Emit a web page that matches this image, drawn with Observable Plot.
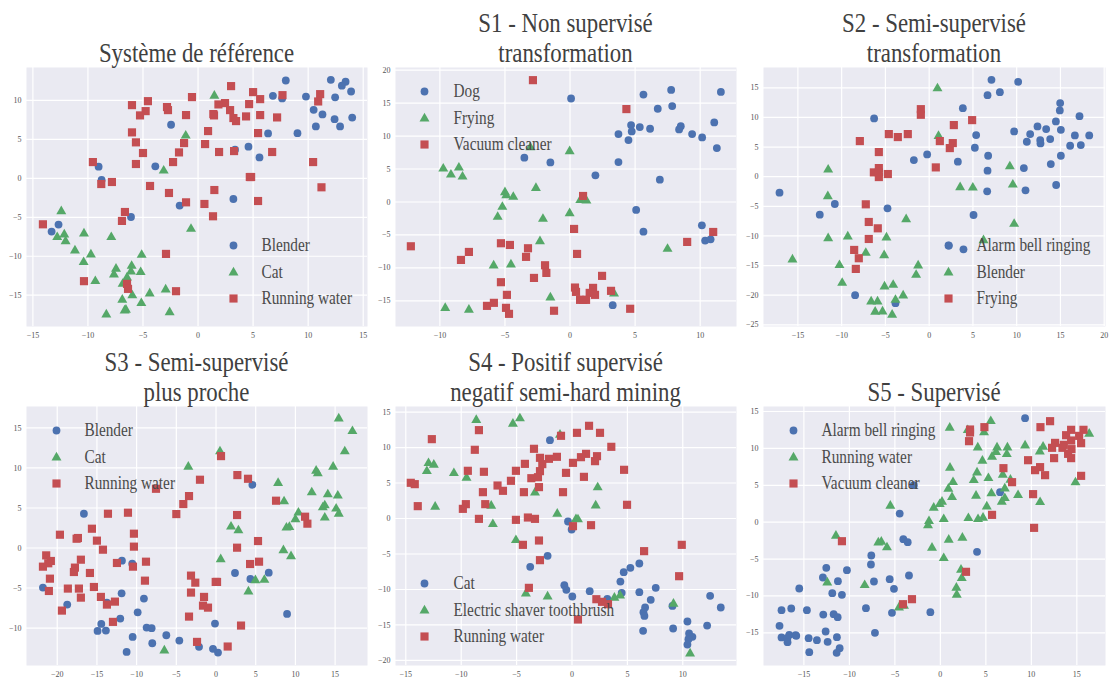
<!DOCTYPE html>
<html>
<head>
<meta charset="utf-8">
<script src="https://cdn.jsdelivr.net/npm/d3@7"></script>
<script src="https://cdn.jsdelivr.net/npm/@observablehq/plot@0.6"></script>
<style>
html,body{margin:0;padding:0;background:#fff}
#root{position:relative;width:1109px;height:681px;overflow:hidden}
.panel{position:absolute}
.ttl{position:absolute;left:0;text-align:center;font-family:"Liberation Serif",serif;font-size:28px;line-height:30px;color:#404040;white-space:nowrap;transform:scaleX(0.815);transform-origin:center}
svg{display:block;background:transparent;overflow:visible}
</style>
</head>
<body>
<div id="root"></div>
<script>
// Panel 0 - Système de référence
const p0Blender=[[7.97,12.56],[6.8,10.6],[7.64,10.26],[9.8,10.5],[12.06,12.65],[13.4,12.4],[13.06,11.9],[13.9,11.15],[12.45,10.4],[10.5,8.8],[11.3,8.2],[12.4,7.6],[14,7.8],[10.7,6.67],[12.9,6.67],[9.03,5.8],[6.36,5.77],[-2.45,6.88],[3.36,3.68],[4.58,4.06],[5.58,2.69],[-9.03,1.5],[-3.88,1.54],[-8.76,-0.2],[-1.67,-3.5],[3.21,-2.65],[-6.09,-4.96],[-12.67,-5.94],[-13.3,-6.84]];
const p0Cat=[[1.48,10.6],[-1.12,5.47],[-3.12,0.98],[-12.42,-4.23],[-0.64,-6.5],[-10.36,-7.09],[-12.15,-7.22],[-12.79,-7.56],[-12.03,-8.08],[-7.88,-7.56],[-11.18,-9.27],[-9.73,-9.79],[-5.12,-9.83],[-10.39,-10.77],[-6.03,-11.24],[-7.45,-11.62],[-6.09,-11.97],[-5.21,-12.05],[-7.64,-12.35],[-6.45,-12.74],[-9.33,-13.2],[-6.85,-13.55],[-2.94,-14.27],[-4.39,-14.79],[-5.97,-15.04],[-6.88,-15.6],[-5.15,-16.03],[-6.55,-16.88],[-6.67,-16.97],[-2.58,-17.2],[-8.33,-17.48]];
const p0Water=[[3,11.84],[5,11.07],[-0.55,10.43],[7.67,10.68],[11.09,10.81],[10.91,9.87],[5.64,10.17],[4.64,9.53],[2.45,9.66],[1.85,9.49],[-4.55,9.91],[-6,9.4],[-2.82,9.15],[-2.73,8.76],[-4.76,8.63],[-5.27,8.08],[-1.09,8.12],[1.39,8.25],[1.45,8.08],[2.91,8.76],[3.21,7.74],[3.45,7.35],[4.36,7.95],[5.64,8.12],[7.18,7.82],[0.91,6.07],[-6,5.9],[5.45,5.81],[-5.64,4.62],[-1.27,4.53],[0.64,4.4],[-1.73,3.33],[-5,3.25],[1.91,3.38],[3.27,3.5],[6.73,3.38],[-9.55,2.09],[-2.27,2.09],[-5.64,1.84],[10.45,2.09],[4.7,0.17],[4.82,0.17],[-7.82,-0.47],[-8.79,-0.73],[-4.36,-0.98],[11.21,-1.15],[1.48,-1.5],[-2.64,-1.88],[-1.09,-3.08],[5.45,-2.91],[0.58,-3.29],[-6.64,-4.32],[1.36,-4.87],[-6.91,-5.47],[-14.09,-5.9],[-2.91,-9.7],[-10.36,-13.2],[-6.45,-13.55],[-6.36,-14.19],[-2,-14.49]];
// Panel 1 - S1
const p1Dog=[[5.64,16.3],[7.77,17],[11.59,16.7],[0.08,15.7],[7.85,14.55],[6.74,14.14],[4.69,11.67],[5.36,11.36],[6.15,11.11],[4.74,10.7],[3.72,10.3],[8.51,11.5],[8.38,11],[9.38,10.3],[10.15,9.8],[11.08,12.07],[4.49,9.39],[11.28,8.18],[-3.51,6.72],[-1.51,6],[3.72,6.06],[1.95,4.04],[6.9,3.38],[5.08,-1.21],[10.13,-3.54],[5.64,-4.5],[10.38,-5.86],[10.8,-5.66],[3.28,-15.66]];
const p1Frying=[[-3.05,8.28],[-0.03,7.68],[-9.74,5.05],[-8.54,5.2],[-9.15,4.14],[-8.26,3.84],[-2.62,2.12],[-5,1.46],[-4.9,1],[-4.36,0.76],[0.79,0.3],[1.26,0.2],[-5.2,-0.76],[-0.03,-1.72],[-5.56,-2.27],[-2.08,-2.58],[-2.31,-5.96],[7.49,-7.12],[-5.87,-9.65],[-4.54,-9.5],[-1.51,-14.5],[3.38,-13.9],[-9.59,-16.1],[-7.77,-16.36]];
const p1Vacuum=[[-2.85,18.48],[4.33,14.09],[1,0.91],[0.31,-4.09],[11,-4.55],[9,-6.06],[-12.23,-6.72],[-5.31,-6.26],[-4.62,-6.52],[-7.77,-7.58],[-3.23,-7.02],[-3.38,-8.33],[-8.38,-8.79],[0.54,-7.88],[-1.92,-9.6],[-1.82,-10.76],[-2.77,-11.52],[2.46,-11.21],[-5.31,-12.17],[0.38,-12.98],[0.46,-13.64],[1.77,-13.03],[1.51,-13.79],[1.92,-14.09],[3.15,-13.48],[-4.85,-14.09],[0.77,-14.85],[1.23,-14.85],[1,-14.85],[-5.85,-15.3],[-6.38,-15.76],[-4.92,-16.06],[-4.69,-16.97],[-1.23,-16.5],[4.62,-16.2]];
// Panel 2 - S2
const p2Alarm=[[7.12,16.35],[10.17,16.01],[8.08,14.27],[6.67,13.76],[3.85,11.57],[14.97,12.42],[14.93,11.18],[-6.29,9.83],[17.18,10.22],[14.48,9.33],[12.38,8.48],[13.37,8.03],[15.05,7.92],[9.71,7.64],[11.54,7.19],[5.37,7.02],[16.65,6.97],[18.29,6.97],[13.83,6.35],[11.16,5.9],[12.69,6.18],[12.72,5.62],[17.33,5.34],[16.11,5.22],[5.22,4.89],[-0.23,3.76],[6.74,3.54],[15.05,3.54],[-1.75,2.81],[3.28,2.53],[13.9,2.13],[10.82,1.46],[6.67,1.01],[14.51,-1.4],[11.01,-2.3],[6.63,-2.47],[-17.1,-2.7],[-10.78,-4.61],[-12.5,-6.4],[-4.76,-5.34],[5.07,-6.46],[2.25,-11.63],[3.92,-12.25],[-8.46,-20],[-3.85,-21.35]];
const p2Blender=[[0.95,14.89],[1.07,6.85],[-11.54,1.18],[9.22,1.74],[3.54,-1.8],[4.99,-1.85],[9.56,-1.35],[-11.58,-3.31],[-2.63,-7.19],[9.71,-7.98],[-11.54,-10.39],[-9.3,-10.11],[-4.88,-10.28],[6.21,-10.73],[-7.24,-12.87],[-5.14,-13.26],[-15.62,-13.99],[-10.25,-14.94],[-1.26,-15],[-1.49,-16.57],[-9.94,-17.92],[-5.1,-18.54],[-4.11,-18.26],[-2.97,-20.06],[-3.85,-20.79],[-6.63,-21.07],[-5.9,-21.07],[-6.17,-22.81],[-5.33,-22.75],[-4.23,-23.31]];
const p2Frying=[[-0.95,11.4],[-0.95,10.45],[4.91,9.55],[2.82,8.71],[-4.61,7.19],[-2.44,7.19],[-3.58,6.69],[-7.92,6.01],[1.22,6.01],[2.7,5.67],[2.36,4.83],[-5.75,4.16],[0.76,1.57],[-5.75,1.46],[-6.32,0.73],[-5.75,0.73],[-4.72,0.45],[-5.75,-0.06],[-7.24,-4.66],[-6.9,-7.64],[-5.87,-8.71],[-6.9,-10.51],[-8.57,-12.36],[-8.04,-13.76],[-8.38,-15.56]];
// Panel 3 - S3
const p3Blender=[[-16.64,4.28],[4.58,7.9],[-11.85,-1.58],[-10.55,-1.96],[2.39,-3.12],[6.64,-3.08],[4.33,-3.87],[-21.8,-4.95],[-11.89,-5.66],[-9.08,-6.32],[-13.74,-6.82],[-18.74,-7.07],[-9.87,-8.03],[-12.06,-8.82],[8.95,-8.24],[-14.45,-9.48],[-0.13,-9.44],[-14.92,-10.36],[-13.87,-10.32],[-8.74,-9.94],[-8.11,-10.02],[-6.26,-10.9],[-10.5,-11.11],[-4.62,-11.56],[-8.03,-11.9],[-11.26,-12.98],[-2.14,-12.35],[-0.38,-12.6],[0.25,-13.06]];
const p3Cat=[[15.46,16.18],[17.18,14.6],[16.22,12.06],[0.5,12.06],[-3.49,10.15],[14.75,10.15],[12.61,9.65],[12.82,9.32],[7.82,8.11],[12.06,6.95],[14.08,6.7],[15.34,6.53],[8.57,5.82],[13.7,5.32],[13.45,5.07],[15.13,4.91],[15.46,4.28],[10.38,4.41],[13.7,3.79],[10,3.58],[9.24,2.62],[8.87,2.54],[1.89,2.66],[2.82,2.2],[8.49,-0.29],[9.45,-1.04],[0.59,-1.41],[4.96,-4.03],[6.09,-3.99],[4.08,-5.45],[-6.51,-12.81]];
const p3Water=[[0.63,11.48],[2.69,9.11],[4.03,8.65],[-2.02,8.53],[-3.4,6.49],[-4.12,5.49],[7.56,5.91],[-7.56,7.4],[-13.61,4.28],[-11.09,4.41],[-5,4.24],[2.65,4.12],[11.22,3.91],[11.51,3.04],[-15.63,2.41],[-19.66,1.66],[-10.34,1.79],[-17.39,1.25],[-17.56,1.16],[-15,0.92],[5.29,0.87],[-10.34,0.17],[-14.24,-0.21],[2.65,0.04],[-17.02,-1.46],[-21.39,-0.92],[-20.8,-1.62],[-21.13,-1.91],[-21.8,-2.33],[-12.48,-1.87],[-8.82,-1.71],[4.29,-2],[5.42,-1.71],[-10.46,-2.33],[-17.77,-2.45],[-17.9,-3],[-15.88,-3.12],[-3.15,-3.45],[-20.92,-3.83],[-2.61,-4.33],[-8.95,-4.08],[-0.04,-4.24],[0.13,-4.24],[-18.66,-5.07],[-15.38,-4.87],[-17.27,-5.07],[-21.05,-5.37],[-3.15,-5.57],[-17.02,-6.2],[-14.5,-6.11],[-1.51,-6.11],[-12.73,-6.7],[-13.74,-7.07],[-1.64,-7.2],[-1.01,-7.45],[-19.41,-7.82],[-3.4,-8.57],[-12.98,-9.23],[3.15,-9.69],[-2.39,-11.73],[1.47,-12.31]];
// Panel 4 - S4
const p4Cat=[[-1.99,11.04],[-0.36,-0.42],[-0.03,-1.55],[-2.2,-5.26],[-3.77,-6.81],[6.08,-6.34],[5.27,-6.95],[4.67,-7.56],[4.37,-8.88],[-0.69,-9.39],[-0.51,-10.05],[1.6,-10.24],[0.03,-10.99],[4.49,-10.47],[6.08,-10.38],[7.56,-9.77],[7.11,-11.46],[3.19,-11.32],[12.47,-10.9],[13.43,-12.54],[9.07,-12.31],[6.6,-12.54],[6.45,-13.2],[6.54,-13.72],[6.42,-15.83],[10.42,-14.51],[9.13,-15.5],[12.2,-15.08],[10.57,-16.2],[10.63,-16.58],[10.87,-16.67],[10.51,-17],[10.42,-17.76]];
const p4Shaver=[[-4.7,14.09],[-8.64,13.86],[-5.33,13.34],[-1.08,11.79],[-12.95,7.8],[-12.47,7.56],[-13.1,6.67],[-10.66,6.39],[-9.52,5.73],[-3.34,3.66],[2.32,4.37],[-12.35,1.64],[-7.29,1.78],[2.14,1.83],[-1.33,0.66],[0.36,-0.09],[0.54,-0.14],[-7.14,-0.8],[-5.06,-3.05],[-4.16,-10.57],[-2.2,-10.99],[3.83,-11.18],[4.34,-10.85],[9.16,-12.02],[10.66,-19.02]];
const p4Water=[[1.54,13.06],[2.53,12.07],[0.45,12.07],[-0.99,11.65],[-8.4,12.45],[-12.65,11.18],[-8.77,9.68],[-3.43,9.82],[3.55,10.1],[-2.89,8.55],[-1.36,8.69],[-2.08,8.41],[1.27,9.11],[0.81,8.64],[2.26,8.78],[2.08,8.08],[0.09,7.84],[-2.68,7.66],[-4.25,7.7],[-9.4,6.72],[-7.95,6.58],[-5.06,6.72],[-2.89,6.67],[-0.54,6.43],[4.7,6.86],[-3.07,5.82],[-3.67,5.68],[1.08,5.87],[-5.51,5.31],[-6.72,4.65],[-14.55,5.03],[-14.19,4.84],[-2.98,4.42],[-6.23,3.9],[-8.04,3.71],[-4.34,3.71],[-0.81,3.71],[-9.58,2.02],[-7.83,2.02],[4.97,1.93],[-13.92,1.74],[-9.85,1.36],[-8.4,-0.05],[-5.06,-0.19],[-3.98,0.14],[-3.34,-0.05],[0.09,-1.08],[1.72,-0.94],[-2.98,-3.1],[-4.43,-3.71],[9.91,-3.71],[6.51,-4.6],[-2.89,-5.87],[9.67,-8.13],[-3.89,-9.77],[2.2,-11.37],[2.71,-11.74],[3.25,-12.07],[0.54,-14.23]];
// Panel 5 - S5
const p5Alarm=[[9.31,14.1],[-2.93,5.02],[6.56,4.07],[-4.47,1.17],[-4.07,-2.3],[-3.59,-2.71],[-7.59,-4.52],[4.03,-4.02],[-7.63,-5.74],[-12.54,-6.19],[-10.27,-6.51],[-12.91,-7.5],[-3.45,-7.23],[-5.57,-7.73],[-7.3,-8.04],[-11.26,-8],[-15.51,-8.99],[-5.1,-9.04],[-11.88,-9.62],[-10.82,-9.85],[-16.39,-11.7],[-17.46,-11.93],[-14.67,-11.93],[-8.18,-11.66],[-1.1,-12.2],[-5.32,-12.29],[-12.87,-12.52],[-11.73,-12.47],[-11.29,-12.88],[-17.68,-14.05],[-12.61,-14.82],[-7.19,-15],[-16.61,-15.27],[-15.91,-15.32],[-15.84,-15.41],[-17.46,-15.63],[-16.8,-15.68],[-11.37,-15.59],[-14.48,-15.73],[-13.57,-16],[-16.8,-16.27],[-12.39,-16.22],[-11.07,-17.08],[-14.41,-17.62],[-11.4,-17.71]];
const p5Water=[[5.54,13.69],[1.03,12.79],[3.01,12.47],[4.8,12.16],[16.36,11.97],[9.31,10.39],[11.29,10.21],[6.23,10.12],[7.37,10.12],[4.11,10.12],[6.12,9.49],[10.93,9.58],[7.3,9.22],[5.68,8.86],[4.62,8.31],[1.06,7.37],[4.03,6.73],[6.86,6.42],[3.67,5.69],[5.28,5.96],[1.39,5.42],[7.7,5.74],[14.85,5.38],[7.08,4.56],[0.88,4.52],[5.61,3.89],[8.54,3.66],[3.92,3.57],[1.28,3.39],[7.08,3.25],[6.75,2.76],[10.96,2.71],[0.18,2.76],[-0.07,2.44],[5.1,2.12],[-5.5,2.21],[-0.73,1.94],[3.08,0.54],[0.37,0.41],[4.69,0.59],[4.14,0.41],[-1.25,0.14],[-1.36,-0.45],[-11.48,-1.85],[-6.49,-2.67],[-6.82,-2.76],[2.42,-2.12],[0.92,-2.39],[-5.87,-3.43],[-0.92,-3.48],[0.37,-4.88],[2.27,-6.46],[2.35,-7.59],[-12.43,-8.18],[-8.32,-8.54],[1.76,-8.9],[1.8,-9.85],[-4.55,-11.57],[-4,-11.34]];
const p5Vacuum=[[12.06,13.69],[4.84,12.88],[11,12.88],[3.26,12.56],[3.26,12.16],[3.15,10.98],[15.73,12.52],[14.37,12.52],[13.82,11.79],[15.25,11.7],[14.37,11.07],[15.47,10.71],[12.61,10.75],[13.57,10.48],[12.28,10.08],[13.42,10.08],[14.41,9.9],[14.04,9.26],[14.37,8.68],[12.5,8.68],[9.64,8.4],[6.93,7.32],[10.96,7.46],[10.41,7.05],[11.51,6.37],[15.47,6.28],[7.88,5.42],[10.19,3.8],[5.68,0.99],[10.3,-0.77],[-10.82,-2.58],[2.82,-6.73],[-3.12,-10.44],[-4.11,-11.12]];

const titles=[["Système de référence"],["S1 - Non supervisé","transformation"],["S2 - Semi-supervisé","transformation"],["S3 - Semi-supervisé","plus proche"],["S4 - Positif supervisé","negatif semi-hard mining"],["S5 - Supervisé"]];
const seriesNames=[["Blender","Cat","Running water"],["Dog","Frying","Vacuum cleaner"],["Alarm bell ringing","Blender","Frying"],["Blender","Cat","Running water"],["Cat","Electric shaver toothbrush","Running water"],["Alarm bell ringing","Running water","Vacuum cleaner"]];
const seriesData=[[p0Blender,p0Cat,p0Water],[p1Dog,p1Frying,p1Vacuum],[p2Alarm,p2Blender,p2Frying],[p3Blender,p3Cat,p3Water],[p4Cat,p4Shaver,p4Water],[p5Alarm,p5Water,p5Vacuum]];
const xTickLists=[[-15,-10,-5,0,5,10,15],[-10,-5,0,5,10],[-15,-10,-5,0,5,10,15,20],[-20,-15,-10,-5,0,5,10,15],[-15,-10,-5,0,5,10],[-15,-10,-5,0,5,10,15]];
const yTickLists=[[-15,-10,-5,0,5,10],[-15,-10,-5,0,5,10,15,20],[-25,-20,-15,-10,-5,0,5,10,15],[-10,-5,0,5,10,15],[-20,-15,-10,-5,0,5,10,15],[-15,-10,-5,0,5,10,15]];
const xDomains=[[-15.58,15.39],[-13.41,12.79],[-18.93,20.15],[-23.87,19.08],[-15.93,14.85],[-19.44,18.15]];
const yDomains=[[-19.02,14.23],[-18.89,20.4],[-25.28,18.43],[-14.68,17.68],[-20.71,15.78],[-19.43,15.68]];

const colors=["#4c72b0","#55a868","#c44e52"];
const symbols=["circle","triangle","square"];
const radii=[3.9,3.7,4.6];
const serif='"Liberation Serif",serif';
const frameLeft=[26,395,763,26,395,763], frameTop=[67,67,67,406,406,406];
const frameW=[341,341,342,341,341,342], frameH=259;
const legendX=[207,29,185,30,29,30], legendText=[235,58,213,58,58,58];
const legendY=[[178,205,231],[24,51,77],[178,205,231],[24,51,77],[177,204,230],[24,51,77]];

const root=document.getElementById("root");
titles.forEach((t,i)=>{
  const div=document.createElement("div");
  div.className="panel";
  div.style.left=(frameLeft[i]-26)+"px";
  div.style.top=frameTop[i]+"px";
  const marks=[
    Plot.frame({fill:"#eaeaf2",stroke:null}),
    Plot.gridX(xTickLists[i],{stroke:"#fff",strokeOpacity:1,strokeWidth:1.2}),
    Plot.gridY(yTickLists[i],{stroke:"#fff",strokeOpacity:1,strokeWidth:1.2}),
    Plot.axisX(xTickLists[i],{tickSize:0,tickPadding:6,fontSize:8,color:"#555",label:null,fontFamily:serif}),
    Plot.axisY(yTickLists[i],{tickSize:0,tickPadding:5,fontSize:8,color:"#555",label:null,fontFamily:serif})
  ];
  seriesData[i].forEach((pts,k)=>{
    marks.push(Plot.dot(pts,{x:d=>d[0],y:d=>d[1],symbol:symbols[k],fill:colors[k],r:radii[k]}));
  });
  seriesNames[i].forEach((name,k)=>{
    marks.push(Plot.dot([name],{frameAnchor:"top-left",dx:legendX[i],dy:legendY[i][k],symbol:symbols[k],fill:colors[k],r:radii[k]}));
    marks.push(Plot.text([name],{text:d=>d,frameAnchor:"top-left",dx:legendText[i],dy:legendY[i][k],textAnchor:"start",lineAnchor:"middle",fontSize:18,fill:"#4a4a4a",fontFamily:serif,className:"lg"}));
  });
  const svg=Plot.plot({
    width:frameW[i]+26,height:frameH+20,
    marginLeft:26,marginRight:0,marginTop:0,marginBottom:20,
    x:{domain:xDomains[i],axis:null},
    y:{domain:yDomains[i],axis:null},
    style:{background:"transparent",overflow:"visible"},
    marks
  });
  div.appendChild(svg);
  root.appendChild(div);
  svg.querySelectorAll(".lg text").forEach(el=>{
    el.setAttribute("textLength",(el.getComputedTextLength()*0.85).toFixed(1));
    el.setAttribute("lengthAdjust","spacingAndGlyphs");
  });
  const ttl=document.createElement("div");
  ttl.className="ttl";
  ttl.style.left=frameLeft[i]+"px";
  ttl.style.width=frameW[i]+"px";
  ttl.style.top=(frameTop[i]+1-30*t.length)+"px";
  ttl.innerHTML=t.join("<br>");
  root.appendChild(ttl);
});
</script>
</body>
</html>
